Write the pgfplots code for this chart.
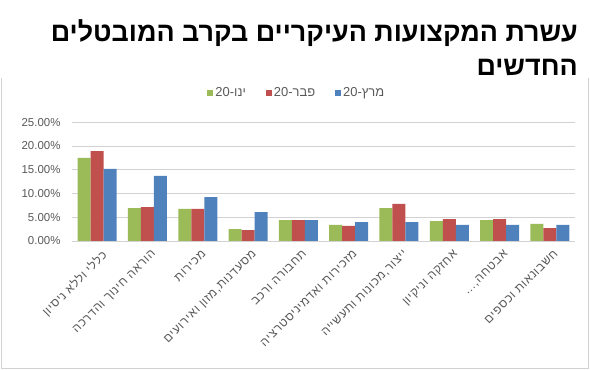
\documentclass[border=0pt]{standalone}
\usepackage{fontspec}
\setmainfont{Liberation Sans}
\newfontfamily\heb[Script=Hebrew]{Liberation Sans}
\newfontfamily\hebl[Script=Hebrew, LetterSpace=6]{Liberation Sans}
\usepackage{pgfplots}
\pgfplotsset{compat=1.18}
\TeXXeTstate=1
\definecolor{cg}{HTML}{9BBB59}
\definecolor{cr}{HTML}{C0504D}
\definecolor{cb}{HTML}{4F81BD}
\definecolor{txt}{HTML}{595959}
\begin{document}
\begin{tikzpicture}
\useasboundingbox (0bp,0bp) rectangle (590bp,370bp);
\draw[gray!35, line width=0.6bp] (1bp,292bp) -- (1bp,2bp) -- (588bp,2bp) -- (588bp,292bp);
\node[anchor=base east, inner sep=0pt, font=\fontsize{27}{30}\selectfont\bfseries] at (578bp,328bp) {\heb\beginR עשרת המקצועות העיקריים בקרב המובטלים\endR};
\node[anchor=base east, inner sep=0pt, font=\fontsize{27}{30}\selectfont\bfseries] at (578bp,294bp) {\heb\beginR החדשים\endR};
\begin{axis}[
  at={(72bp,129bp)}, anchor=south west, scale only axis,
  width=503bp, height=118.7bp,
  ybar=0pt, bar width=13bp,
  ymin=0, ymax=25, ytick={0,5,...,25},
  xmin=-0.5, xmax=9.5, xtick={0,...,9},
  xticklabels={
    {{\hebl\beginR כללי וללא ניסיון\endR}},
    {{\hebl\beginR הוראה חינוך והדרכה\endR}},
    {{\hebl\beginR מכירות\endR}},
    {{\hebl\beginR מסעדנות,מזון ואירועים\endR}},
    {{\hebl\beginR תחבורה ורכב\endR}},
    {{\hebl\beginR מזכירות ואדמיניסטרציה\endR}},
    {{\hebl\beginR ייצור,מכונות ותעשייה\endR}},
    {{\hebl\beginR אחזקה וניקיון\endR}},
    {{\hebl\beginR אבטחה,...\endR}},
    {{\hebl\beginR חשבונאות וכספים\endR}}},
  ymajorgrids, grid style={gray!35, line width=0.6bp},
  axis line style={draw=none},
  major tick length=0pt,
  /pgf/number format/assume math mode=true,
  yticklabel={\pgfmathprintnumber[fixed,fixed zerofill,precision=2]{\tick}\%},
  y tick label style={font=\fontsize{11.5}{13}\selectfont, color=txt, xshift=-8bp},
  x tick label style={font=\fontsize{12}{14}\selectfont, color=txt, rotate=45, anchor=north east, yshift=-5bp, xshift=0bp},
  legend columns=3,
  legend style={at={(0.447,1.245)}, anchor=center, draw=none, fill=none,
    font=\fontsize{13}{15}\selectfont, text=txt,
    /tikz/every even column/.append style={column sep=18bp}},
  legend image code/.code={\fill[#1] (0bp,-3bp) rectangle (6bp,3bp);},
  every axis plot/.append style={draw=none},
]
\addplot[fill=cg] coordinates {(0,17.5) (1,6.95) (2,6.75) (3,2.5) (4,4.4) (5,3.4) (6,6.9) (7,4.2) (8,4.4) (9,3.6)};
\addplot[fill=cr] coordinates {(0,18.95) (1,7.15) (2,6.75) (3,2.3) (4,4.4) (5,3.2) (6,7.8) (7,4.6) (8,4.6) (9,2.7)};
\addplot[fill=cb] coordinates {(0,15.2) (1,13.7) (2,9.26) (3,6.1) (4,4.4) (5,4.0) (6,4.0) (7,3.4) (8,3.4) (9,3.4)};
\legend{{\heb\beginR ינו-20\endR},{\heb\beginR פבר-20\endR},{\heb\beginR מרץ-20\endR}}
\end{axis}
\end{tikzpicture}
\end{document}
